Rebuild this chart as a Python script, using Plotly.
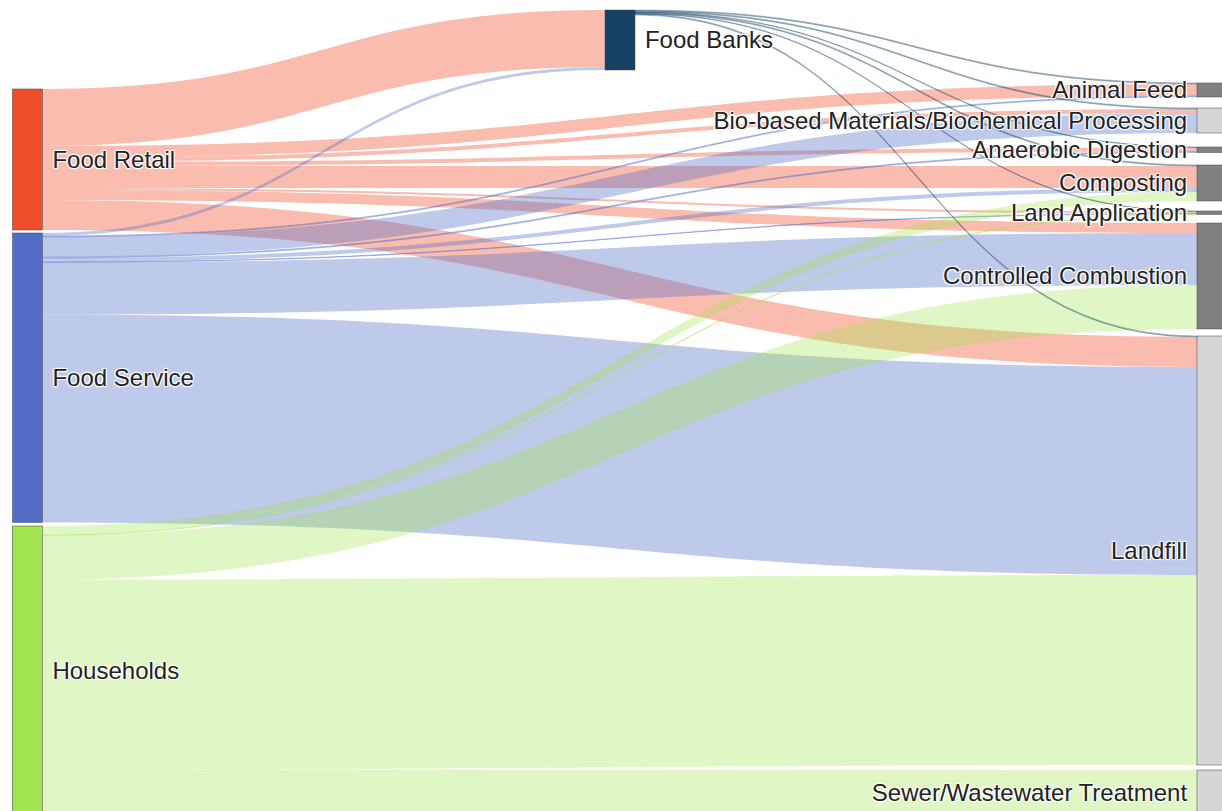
import plotly.graph_objects as go

# ---------------- data ----------------
node_labels = [
    "Food Retail", "Food Service", "Households", "Food Banks",
    "Animal Feed", "Bio-based Materials/Biochemical Processing",
    "Anaerobic Digestion", "Composting", "Land Application",
    "Controlled Combustion", "Landfill", "Sewer/Wastewater Treatment",
]

link_source = [
    "Food Retail", "Food Retail", "Food Retail", "Food Retail",
    "Food Retail", "Food Retail", "Food Retail", "Food Retail",
    "Food Service", "Food Service", "Food Service", "Food Service",
    "Food Service", "Food Service", "Food Service", "Food Service",
    "Households", "Households", "Households", "Households", "Households",
    "Food Banks", "Food Banks", "Food Banks", "Food Banks", "Food Banks", "Food Banks",
]
link_target = [
    "Food Banks", "Animal Feed", "Bio-based Materials/Biochemical Processing",
    "Anaerobic Digestion", "Composting", "Land Application",
    "Controlled Combustion", "Landfill",
    "Food Banks", "Animal Feed", "Bio-based Materials/Biochemical Processing",
    "Anaerobic Digestion", "Composting", "Land Application",
    "Controlled Combustion", "Landfill",
    "Composting", "Land Application", "Controlled Combustion", "Landfill",
    "Sewer/Wastewater Treatment",
    "Animal Feed", "Bio-based Materials/Biochemical Processing",
    "Anaerobic Digestion", "Composting", "Land Application", "Landfill",
]
link_value = [
    57, 12, 4, 4, 22, 2, 10, 30,
    3, 1, 20, 1, 4, 0.5, 52, 208,
    9, 0.5, 44, 190, 46,
    1, 1, 0.5, 1, 0.5, 1,
]

# ---------------- styles ----------------
node_colors = {
    "Food Retail": (240, 78, 42),
    "Food Service": (82, 110, 200),
    "Households": (160, 228, 80),
    "Food Banks": (20, 65, 100),
    "Animal Feed": (128, 128, 128),
    "Bio-based Materials/Biochemical Processing": (214, 214, 214),
    "Anaerobic Digestion": (128, 128, 128),
    "Composting": (128, 128, 128),
    "Land Application": (128, 128, 128),
    "Controlled Combustion": (128, 128, 128),
    "Landfill": (214, 214, 214),
    "Sewer/Wastewater Treatment": (214, 214, 214),
}
link_alpha = {"Food Retail": 0.38, "Food Service": 0.37, "Households": 0.33, "Food Banks": 0.32}

W, H = 1222, 830
thickness = 30
# node column centres (px) and node tops (px) used for the fixed arrangement
col_center = {"left": 27.5, "mid": 620, "right": 1212}
node_column = ["left", "left", "left", "mid"] + ["right"] * 8
node_top = [89, 233, 526, 10, 83, 108, 147, 165, 211, 223, 336, 770]

idx = {n: i for i, n in enumerate(node_labels)}
src = [idx[s] for s in link_source]
tgt = [idx[t] for t in link_target]

# node sizes (max of in/out flow) so the fixed positions can use node centres
n = len(node_labels)
inflow = [0.0] * n
outflow = [0.0] * n
for s, t, v in zip(src, tgt, link_value):
    outflow[s] += v
    inflow[t] += v
size = [max(a, b) for a, b in zip(inflow, outflow)]

right_total = sum(size[i] for i in range(n) if node_column[i] == "right")
pad = (H - right_total) / 7.0  # gives 1 px per unit

node_x = [col_center[c] / W for c in node_column]
node_y = [(node_top[i] + size[i] / 2.0) / H for i in range(n)]

# small extra spacing between node and label (non-breaking space)
NB = "\u00a0"
shown_labels = [
    (l + NB) if node_column[i] == "right" else (NB + l)
    for i, l in enumerate(node_labels)
]

def rgba(c, a):
    return "rgba(%d,%d,%d,%.3f)" % (c[0], c[1], c[2], a)

fig = go.Figure(go.Sankey(
    arrangement="fixed",
    node=dict(
        label=shown_labels,
        color=[rgba(node_colors[l], 1) for l in node_labels],
        x=node_x, y=node_y,
        pad=pad, thickness=thickness,
        line=dict(color="#444", width=0.5),
    ),
    link=dict(
        source=src, target=tgt, value=link_value,
        color=[rgba(node_colors[s], link_alpha[s]) for s in link_source],
    ),
    textfont=dict(family="Arial", size=24, color="#222"),
    hoverinfo="skip",
))
fig.update_layout(
    width=W, height=H,
    margin=dict(l=0, r=0, t=0, b=0),
    paper_bgcolor="white",
)
fig.write_html(
    "out.html",
    config={"displayModeBar": False},
    post_script="document.documentElement.style.overflow='hidden';"
                "document.body.style.margin='0';document.body.style.overflow='hidden';",
)
